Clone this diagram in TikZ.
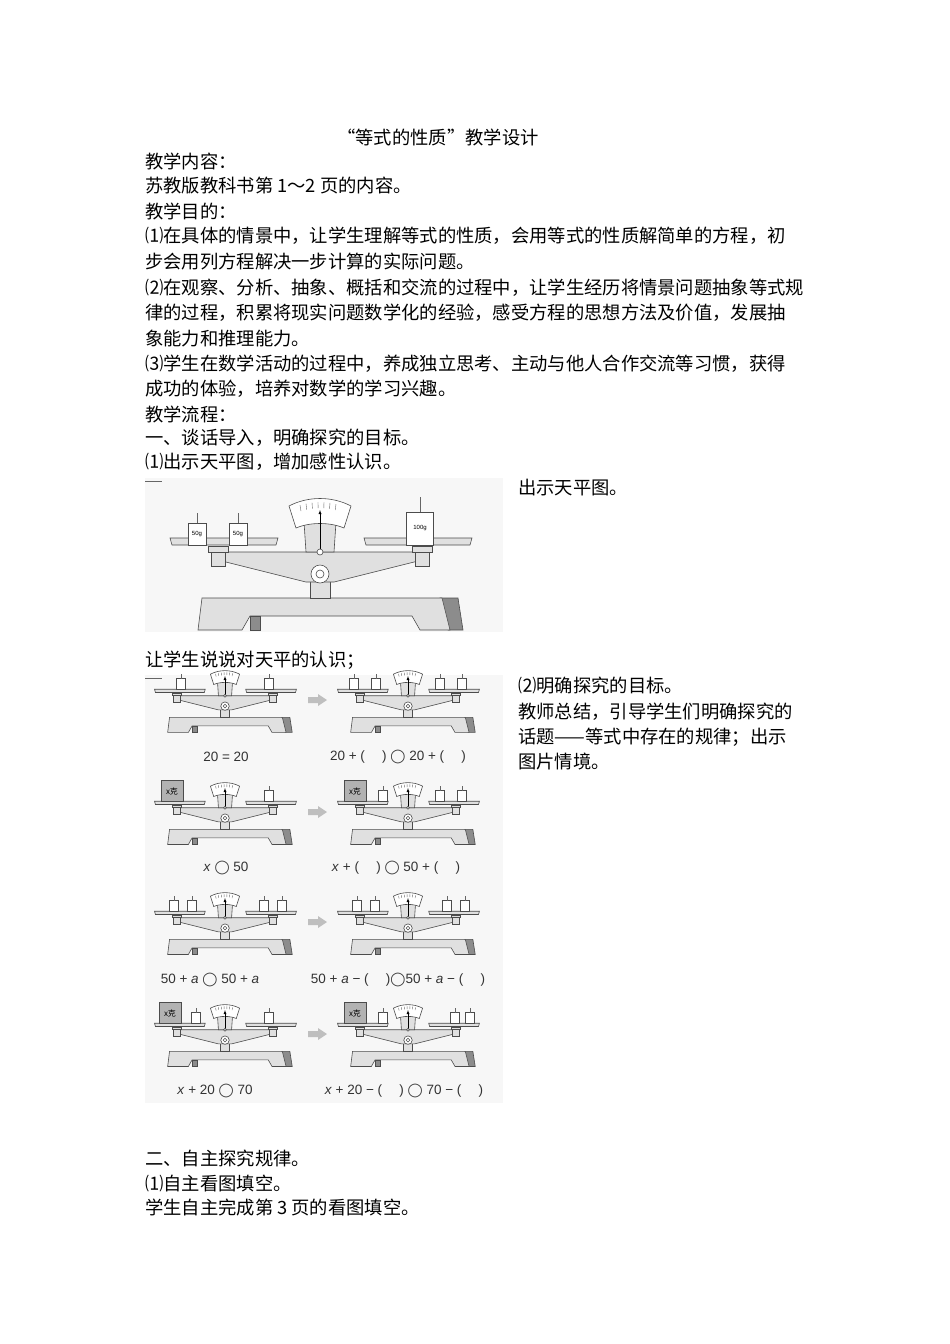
\documentclass[tikz,border=0pt]{standalone}
\usepackage{fontspec}
\setmainfont{Liberation Serif}
\newfontfamily\cjk{Noto Sans CJK SC}
\newfontfamily\lsans{Liberation Sans}
\newfontfamily\dvs{DejaVu Sans}
\usetikzlibrary{calc}
\tikzset{
  txt/.style={anchor=west,inner sep=0pt,font=\cjk\fontsize{18.3}{20}\selectfont},
  eq/.style={inner sep=0pt,font=\lsans\fontsize{13.5}{15}\selectfont,text=black!80},
  part/.style={draw=black!70,fill=black!12,line width=0.6pt},
  dark/.style={draw=black!70,fill=black!45,line width=0.6pt},
  weight/.pic={
    \draw[part,fill=white] (-9,-22) rectangle (9,0);
    \draw[black!60,line width=1pt] (0,-22) -- (0,-32);
    \node[inner sep=0pt,font=\lsans\fontsize{6}{6}\selectfont] at (0,-11) {\tikzpictext};
  },
  balance/.pic={
    \draw[dark] (120,20) -- (138,20) -- (143,52) -- (128,52) -- cycle;
    \draw[part] (-118,20) -- (122,20) -- (130,52) -- (100,52) -- (92,38) -- (-70,38) -- (-78,52) -- (-122,52) -- cycle;
    \draw[dark] (-70,38) rectangle (-60,52);
    \draw[part] (-10,0) rectangle (10,20);
    \draw[part] (-102,-26) -- (102,-26) -- (102,-18) -- (14,4) -- (-14,4) -- (-102,-18) -- cycle;
    \draw[part,fill=white] (0,-4) circle (9);
    \draw[part,fill=white] (0,-4) circle (4);
    \foreach \s in {-1,1}{
      \draw[part] (\s*102-7,-30) rectangle (\s*102+7,-12);
      \draw[part] (\s*102-10,-32) rectangle (\s*102+10,-26);
    }
    \draw[part] (-150,-40) -- (-42,-40) -- (-44,-33) -- (-148,-33) -- cycle;
    \draw[part] (44,-40) -- (152,-40) -- (150,-33) -- (46,-33) -- cycle;
    \draw[part] (-14,-26) -- (-16,-56) -- (16,-56) -- (14,-26) -- cycle;
    \draw[part,fill=white] (-31,-72) .. controls (-12,-82) and (12,-82) .. (31,-72)
       -- (24,-50) .. controls (10,-56) and (-10,-56) .. (-24,-50) -- cycle;
    \foreach \x in {-20,-14,...,20} \draw[black!60] (\x,-76+0.004*\x*\x*2) -- (\x*0.95,-70+0.004*\x*\x*2);
    \draw[-latex,black] (0,-28) -- (0,-68);
    \draw[part,fill=white] (0,-26) circle (3);
  }
}
\begin{document}
\begin{tikzpicture}[x=1pt,y=-1pt]
\useasboundingbox[fill=white] (0,0) rectangle (950,1344);
\node[txt,anchor=center] (t0) at (438,137) {“等式的性质”教学设计};
\node[txt] (t1) at (145,161) {教学内容：};
\node[txt] (t2) at (145,186) {苏教版教科书第 1～2 页的内容。};
\node[txt] (t3) at (145,211) {教学目的：};
\node[txt] (t4) at (145,236) {⑴在具体的情景中，让学生理解等式的性质，会用等式的性质解简单的方程，初};
\node[txt] (t5) at (145,262) {步会用列方程解决一步计算的实际问题。};
\node[txt] (t6) at (145,288) {⑵在观察、分析、抽象、概括和交流的过程中，让学生经历将情景问题抽象等式规};
\node[txt] (t7) at (145,313) {律的过程，积累将现实问题数学化的经验，感受方程的思想方法及价值，发展抽};
\node[txt] (t8) at (145,339) {象能力和推理能力。};
\node[txt] (t9) at (145,364) {⑶学生在数学活动的过程中，养成独立思考、主动与他人合作交流等习惯，获得};
\node[txt] (t10) at (145,389) {成功的体验，培养对数学的学习兴趣。};
\node[txt] (t11) at (145,414) {教学流程：};
\node[txt] (t12) at (145,438) {一、谈话导入，明确探究的目标。};
\node[txt] (t13) at (145,462) {⑴出示天平图，增加感性认识。};
\node[txt] (t14) at (518,488) {出示天平图。};
\node[txt] (t15) at (145,660) {让学生说说对天平的认识；};
\node[txt] (t16) at (518,686) {⑵明确探究的目标。};
\node[txt] (t17) at (518,712) {教师总结，引导学生们明确探究的};
\node[txt] (t18) at (518,737) {话题——等式中存在的规律；出示};
\node[txt] (t19) at (518,762) {图片情境。};
\node[txt] (t20) at (145,1158) {二、自主探究规律。};
\node[txt] (t21) at (145,1183) {⑴自主看图填空。};
\node[txt] (t22) at (145,1208) {学生自主完成第 3 页的看图填空。};
% big picture
\fill[black!3] (145,478) rectangle (503,632);
\draw[black!60] (145,481) -- (162,481);
\pic at (320,578) {balance};
\pic[pic text=50g] at (197,545) {weight};
\pic[pic text=50g] at (238,545) {weight};
\pic[pic text=100g,scale=1.5] at (420,545) {weight};
% grid picture
\fill[black!3] (145,675) rectangle (503,1103);
\draw[black!60] (145,678) -- (162,678);
\foreach \yy in {708,820,930,1042}{
  \pic[scale=0.47] at (225,\yy) {balance};
  \pic[scale=0.47] at (408,\yy) {balance};
  \fill[black!25] (308,\yy-11) -- (318,\yy-11) -- (318,\yy-14) -- (327,\yy-8) -- (318,\yy-2) -- (318,\yy-5) -- (308,\yy-5) -- cycle;
}
\foreach \x/\yy in {181/708,269/708,354/708,440/708,376/708,462/708,269/820,440/820,462/820,383/820,
  174/930,192/930,264/930,282/930,357/930,375/930,447/930,465/930,269/1042,196/1042,
  455/1042,470/1042,383/1042}{
  \pic[scale=0.47,pic text={}] at (\x,\yy-19) {weight};
}
\foreach \x/\yy in {172/820,355/820,170/1042,355/1042}{
  \draw[part,fill=black!30] (\x-11,\yy-40) rectangle (\x+11,\yy-19);
  \node[inner sep=0pt,font=\cjk\fontsize{8}{8}\selectfont] at (\x,\yy-29) {\textit{x}克};
}
\node[eq] (e1) at (226,757) {20 = 20};
\node[eq] (e2) at (398,757) {20 + (\quad\ ) {\dvs ◯} 20 + (\quad\ )};
\node[eq] (e3) at (226,868) {\textit{x} {\dvs ◯} 50};
\node[eq] (e4) at (396,868) {\textit{x} + (\quad\ ) {\dvs ◯} 50 + (\quad\ )};
\node[eq] (e5) at (210,980) {50 + \textit{a} {\dvs ◯} 50 + \textit{a}};
\node[eq] (e6) at (398,980) {50 + \textit{a} − (\quad\ ){\dvs ◯}50 + \textit{a} − (\quad\ )};
\node[eq] (e7) at (215,1091) {\textit{x} + 20 {\dvs ◯} 70};
\node[eq] (e8) at (404,1091) {\textit{x} + 20 − (\quad\ ) {\dvs ◯} 70 − (\quad\ )};
\end{tikzpicture}
\end{document}
